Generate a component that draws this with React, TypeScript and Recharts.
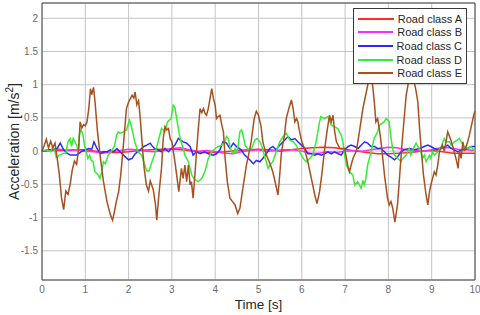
import React from "react";
import {
  LineChart,
  Line,
  XAxis,
  YAxis,
  CartesianGrid,
  Legend,
  Label,
  ReferenceLine,
} from "recharts";

// tick labels
const xTicks = [0, 1, 2, 3, 4, 5, 6, 7, 8, 9, 10];
const yTicks = [-1.5, -1, -0.5, 0, 0.5, 1, 1.5, 2];

// Road class A (red) - slow, tiny drift
const timeA = [
  0, 0.25, 0.5, 0.75, 1, 1.25, 1.5, 1.75, 2, 2.25, 2.5, 2.75, 3, 3.25, 3.5, 3.75, 4, 4.25, 4.5, 4.75, 5,
  5.25, 5.5, 5.75, 6, 6.25, 6.5, 6.75, 7, 7.25, 7.5, 7.75, 8, 8.25, 8.5, 8.75, 9, 9.25, 9.5, 9.75, 10,
];
const accA = [
  0, 0.01, 0.01, 0.02, 0.02, 0, -0.02, -0.02, -0.01, 0.01, 0.02, 0.03, 0.03, 0.02, 0, -0.02, -0.02, -0.01,
  0.01, 0.02, 0.03, 0.02, 0, 0.02, 0.04, 0.05, 0.06, 0.05, 0.03, 0, -0.02, -0.04, -0.04, -0.03, -0.02, 0,
  0.01, -0.01, -0.03, -0.03, -0.03,
];

// Road class B (magenta)
const timeB = [
  0, 0.2, 0.4, 0.6, 0.8, 1, 1.2, 1.4, 1.6, 1.8, 2, 2.2, 2.4, 2.6, 2.8, 3, 3.2, 3.4, 3.6, 3.8, 4, 4.2, 4.4,
  4.6, 4.8, 5, 5.2, 5.4, 5.6, 5.8, 6, 6.2, 6.4, 6.6, 6.8, 7, 7.2, 7.4, 7.6, 7.8, 8, 8.2, 8.4, 8.6, 8.8, 9,
  9.2, 9.4, 9.6, 9.8, 10,
];
const accB = [
  0, 0.02, 0.03, 0.01, 0.02, 0, -0.01, -0.03, -0.01, 0.01, 0.03, 0.02, 0, -0.01, 0.01, 0.04, 0.05, 0.02, 0,
  0.01, -0.01, -0.03, -0.04, -0.01, 0.01, 0.02, 0, 0.01, 0.02, 0.02, 0, -0.03, -0.03, -0.01, -0.02, 0, 0.01,
  0, 0.02, 0.04, 0.06, 0.05, 0.02, 0.01, 0, 0.02, 0.05, 0.05, 0.03, 0.02, 0.01,
];

// Road class C (blue)
const timeC = [
  0, 0.2, 0.35, 0.42, 0.5, 0.58, 0.65, 0.73, 0.8, 0.9, 1, 1.08, 1.15, 1.2, 1.27, 1.35, 1.42, 1.5, 1.58,
  1.65, 1.73, 1.8, 1.93, 2, 2.08, 2.15, 2.27, 2.35, 2.42, 2.5, 2.53, 2.6, 2.68, 2.76, 2.84, 2.92, 2.99, 3.07,
  3.15, 3.19, 3.26, 3.34, 3.42, 3.49, 3.57, 3.65, 3.76, 3.84, 3.95, 4.03, 4.11, 4.18, 4.26, 4.34, 4.42, 4.49,
  4.6, 4.68, 4.77, 4.88, 4.95, 5.03, 5.1, 5.18, 5.26, 5.33, 5.41, 5.49, 5.57, 5.64, 5.68, 5.76, 5.84, 5.91,
  5.99, 6.07, 6.14, 6.22, 6.3, 6.37, 6.45, 6.53, 6.6, 6.68, 6.76, 6.84, 6.91, 6.99, 7.07, 7.14, 7.22, 7.3,
  7.37, 7.45, 7.52, 7.6, 7.68, 7.75, 7.83, 7.91, 7.98, 8.06, 8.14, 8.21, 8.29, 8.37, 8.48, 8.6, 8.72, 8.83,
  8.91, 8.98, 9.06, 9.14, 9.22, 9.29, 9.37, 9.45, 9.52, 9.6, 9.72, 9.83, 9.91, 10,
];
const accC = [
  0, 0.02, 0.04, 0.12, 0.02, -0.03, -0.06, -0.06, -0.06, -0.01, 0.02, 0.04, 0.03, 0.14, 0.04, -0.04, -0.01,
  -0.01, 0.02, -0.01, 0.04, -0.01, -0.09, -0.13, -0.11, -0.04, 0.02, 0.07, 0.09, 0.12, 0.09, 0.04, 0.02,
  -0.01, 0.04, -0.01, 0.04, 0.09, 0.19, 0.17, 0.14, 0.12, 0.07, -0.06, -0.01, -0.04, -0.01, -0.04, -0.06,
  -0.04, 0.02, 0.14, 0.12, 0.04, 0.12, 0.07, 0.02, -0.06, -0.11, -0.19, -0.14, -0.16, -0.11, -0.04, 0.04,
  0.07, 0.02, 0.09, 0.14, 0.19, 0.22, 0.17, 0.19, 0.14, 0.09, 0.04, -0.04, -0.04, -0.06, -0.04, -0.06, -0.04,
  -0.01, -0.04, -0.01, -0.04, -0.06, 0.02, 0.07, 0.09, 0.07, 0.04, 0.09, 0.14, 0.12, 0.07, 0.07, 0.04, 0.04,
  -0.01, -0.06, -0.09, -0.13, -0.09, -0.01, 0.02, 0.04, 0.02, 0.04, 0.07, 0.09, 0.07, 0.04, 0.02, 0.04, 0.06,
  0.09, 0.04, 0.02, -0.01, 0.02, 0.04, 0.07, 0.07,
];

// Road class D (green)
const timeD = [
  0, 0.1, 0.2, 0.25, 0.3, 0.33, 0.4, 0.5, 0.55, 0.6, 0.65, 0.68, 0.72, 0.76, 0.8, 0.84, 0.86, 0.9, 0.94,
  0.98, 1.02, 1.06, 1.1, 1.14, 1.18, 1.22, 1.3, 1.34, 1.38, 1.42, 1.46, 1.53, 1.6, 1.68, 1.72, 1.76, 1.8,
  1.88, 1.95, 2.02, 2.06, 2.1, 2.14, 2.22, 2.3, 2.37, 2.42, 2.47, 2.52, 2.57, 2.62, 2.68, 2.76, 2.84, 2.9,
  2.98, 3.03, 3.07, 3.11, 3.15, 3.19, 3.26, 3.3, 3.38, 3.42, 3.46, 3.53, 3.61, 3.69, 3.76, 3.8, 3.84, 3.92,
  4, 4.07, 4.15, 4.22, 4.26, 4.3, 4.34, 4.38, 4.42, 4.46, 4.5, 4.53, 4.57, 4.61, 4.65, 4.69, 4.77, 4.84,
  4.92, 4.97, 5.03, 5.07, 5.11, 5.18, 5.22, 5.26, 5.33, 5.41, 5.49, 5.57, 5.64, 5.72, 5.8, 5.87, 5.95, 6.03,
  6.1, 6.18, 6.25, 6.33, 6.41, 6.44, 6.52, 6.6, 6.68, 6.75, 6.83, 6.91, 6.95, 6.99, 7.03, 7.1, 7.18, 7.22,
  7.29, 7.33, 7.37, 7.41, 7.44, 7.48, 7.52, 7.6, 7.67, 7.75, 7.79, 7.9, 7.95, 8.02, 8.06, 8.1, 8.14, 8.22,
  8.29, 8.33, 8.41, 8.48, 8.52, 8.6, 8.64, 8.68, 8.75, 8.79, 8.83, 8.87, 8.95, 8.98, 9.02, 9.06, 9.14, 9.22,
  9.29, 9.33, 9.41, 9.45, 9.52, 9.6, 9.64, 9.68, 9.75, 9.83, 9.91, 10,
];
const accD = [
  0, 0.02, -0.01, 0.07, -0.01, -0.1, -0.06, -0.03, -0.03, 0.14, 0.19, 0.07, 0.19, 0.14, 0.09, -0.01, 0.24,
  0.32, 0.27, 0.09, -0.01, -0.11, -0.06, -0.14, -0.16, -0.31, -0.36, -0.41, -0.31, -0.16, -0.19, -0.06,
  -0.01, 0.09, 0.24, 0.29, 0.27, 0.29, 0.32, 0.47, 0.39, 0.27, 0.14, -0.01, -0.06, -0.2, -0.3, -0.3, -0.2,
  -0.1, -0.01, 0.14, 0.34, 0.29, 0.44, 0.49, 0.69, 0.66, 0.49, 0.34, 0.19, 0.04, -0.06, -0.16, -0.26, -0.36,
  -0.43, -0.46, -0.41, -0.31, -0.21, -0.11, -0.01, 0.04, 0.07, 0.09, 0.14, 0.22, 0.19, 0.07, -0.01, -0.04,
  0.04, -0.01, 0.09, 0.29, 0.32, 0.22, 0.09, 0.02, 0.04, 0.17, 0.19, 0.14, 0.09, -0.01, -0.16, -0.26, -0.21,
  -0.16, -0.01, 0.14, 0.22, 0.27, 0.17, 0.14, 0.09, -0.01, -0.11, -0.16, -0.11, -0.06, 0.14, 0.44, 0.52,
  0.49, 0.52, 0.39, 0.37, 0.34, 0.24, 0.14, -0.06, -0.21, -0.31, -0.36, -0.51, -0.46, -0.51, -0.56, -0.44,
  -0.51, -0.41, -0.21, -0.01, 0.19, 0.29, 0.39, 0.44, 0.49, 0.44, 0.19, 0.04, -0.06, -0.11, -0.16, -0.11,
  -0.06, 0.04, -0.06, 0.07, 0.12, 0.07, -0.01, -0.11, -0.06, -0.16, -0.06, -0.11, -0.01, -0.06, -0.01, 0.07,
  0.19, 0.14, 0.14, 0.09, 0.14, 0.17, 0.19, 0.14, 0.07, 0.04, 0.07, -0.01,
];

// Road class E (brown)
const timeE = [
  0, 0.05, 0.1, 0.15, 0.2, 0.25, 0.3, 0.35, 0.4, 0.45, 0.5, 0.55, 0.6, 0.65, 0.7, 0.75, 0.8, 0.85, 0.88,
  0.92, 0.96, 1, 1.04, 1.08, 1.12, 1.15, 1.19, 1.23, 1.28, 1.35, 1.42, 1.5, 1.58, 1.63, 1.67, 1.72, 1.77,
  1.82, 1.88, 1.95, 2, 2.08, 2.12, 2.15, 2.19, 2.23, 2.27, 2.31, 2.36, 2.41, 2.46, 2.5, 2.57, 2.62, 2.65,
  2.7, 2.76, 2.8, 2.84, 2.88, 2.92, 2.96, 3, 3.07, 3.11, 3.16, 3.22, 3.26, 3.3, 3.34, 3.38, 3.42, 3.45,
  3.49, 3.53, 3.57, 3.61, 3.65, 3.69, 3.73, 3.77, 3.8, 3.84, 3.88, 3.92, 3.96, 4, 4.03, 4.07, 4.11, 4.15,
  4.19, 4.23, 4.28, 4.34, 4.4, 4.46, 4.52, 4.57, 4.65, 4.72, 4.77, 4.83, 4.9, 4.95, 5, 5.06, 5.1, 5.18,
  5.25, 5.33, 5.4, 5.45, 5.49, 5.53, 5.6, 5.64, 5.7, 5.76, 5.8, 5.84, 5.88, 5.91, 5.95, 6, 6.06, 6.14, 6.22,
  6.3, 6.35, 6.41, 6.46, 6.53, 6.58, 6.64, 6.68, 6.72, 6.76, 6.8, 6.88, 6.99, 7.06, 7.1, 7.18, 7.26, 7.33,
  7.41, 7.49, 7.54, 7.6, 7.65, 7.68, 7.71, 7.75, 7.79, 7.83, 7.87, 7.91, 7.98, 8.02, 8.06, 8.1, 8.15, 8.21,
  8.25, 8.29, 8.33, 8.37, 8.41, 8.48, 8.53, 8.58, 8.64, 8.68, 8.72, 8.77, 8.81, 8.87, 8.91, 8.95, 8.98,
  9.02, 9.06, 9.1, 9.14, 9.18, 9.25, 9.29, 9.33, 9.37, 9.43, 9.48, 9.56, 9.61, 9.64, 9.68, 9.72, 9.76, 9.83,
  9.87, 9.97, 10,
];
const accE = [
  0, 0.08, 0.18, 0.05, 0.15, 0.05, 0.12, -0.1, -0.35, -0.7, -0.88, -0.6, -0.65, -0.5, -0.28, -0.15, -0.2,
  0.06, 0.44, 0.35, 0.4, 0.38, 0.44, 0.64, 0.94, 0.85, 0.96, 0.7, 0.3, -0.11, -0.46, -0.76, -0.96, -1.04,
  -0.92, -0.75, -0.61, -0.35, 0.09, 0.64, 0.74, 0.84, 0.8, 0.89, 0.7, 0.76, 0.49, 0.14, -0.26, -0.51, -0.6,
  -0.45, -0.58, -0.8, -1.04, -0.65, -0.26, 0.19, 0.37, 0.32, 0.34, 0.19, 0.14, -0.16, -0.36, -0.61, -0.26,
  -0.41, -0.21, -0.46, -0.21, -0.51, -0.46, -0.71, -0.36, 0, 0.34, 0.64, 0.58, 0.64, 0.56, 0.54, 0.64, 0.79,
  0.94, 0.79, 0.69, 0.49, 0.52, 0.54, 0.4, 0.29, -0.11, -0.46, -0.71, -0.76, -0.81, -0.94, -0.86, -0.51,
  -0.21, -0.06, 0.14, 0.49, 0.6, 0.54, 0.37, 0.14, -0.06, -0.16, -0.31, -0.51, -0.66, -0.36, -0.01, 0.24,
  0.49, 0.64, 0.77, 0.64, 0.44, 0.49, 0.44, 0.29, 0.14, 0.04, -0.16, -0.41, -0.66, -0.79, -0.61, -0.36,
  0.04, 0.29, 0.54, 0.44, 0.54, 0.29, 0.14, 0.04, 0.04, -0.21, -0.31, -0.11, 0, 0.29, 0.64, 0.89, 1.05, 1.2,
  0.9, 0.7, 0.44, 0.49, 0.34, 0.14, -0.11, -0.36, -0.71, -0.81, -0.76, -0.86, -1.07, -0.81, -0.46, -0.1,
  0.24, 0.54, 0.84, 1.1, 1.22, 1.1, 0.9, 0.74, 0.34, -0.06, -0.36, -0.66, -0.81, -0.61, -0.51, -0.41, -0.31,
  -0.36, -0.21, 0, 0.09, 0, 0.14, 0.29, 0.19, 0.09, -0.11, -0.26, 0, -0.11, 0.14, 0, 0.14, 0.24, 0.54, 0.6,
];

const toPoints = (times: number[], values: number[]) =>
  times.map((t, i) => ({ t, v: values[i] }));

const series = [
  { name: "Road class A", color: "#ff2a2a", data: toPoints(timeA, accA) },
  { name: "Road class B", color: "#ff2aff", data: toPoints(timeB, accB) },
  { name: "Road class C", color: "#2a2aff", data: toPoints(timeC, accC) },
  { name: "Road class D", color: "#33ee33", data: toPoints(timeD, accD) },
  { name: "Road class E", color: "#a8501e", data: toPoints(timeE, accE) },
];

const renderLegend = ({ payload }: any) => (
  <div
    style={{
      border: "1px solid #3a3a3a",
      background: "#ffffff",
      padding: "3px 4px 3px 4px",
      boxSizing: "border-box",
      width: 114,
    }}
  >
    {(payload || []).map((entry: any) => (
      <div
        key={entry.value}
        style={{ display: "flex", alignItems: "center", height: 13.6, fontSize: 11, color: "#262626" }}
      >
        <span
          style={{
            display: "inline-block",
            width: 39,
            height: 0,
            borderTop: `2px solid ${entry.color}`,
            marginRight: 4,
          }}
        />
        <span style={{ whiteSpace: "nowrap" }}>{entry.value}</span>
      </div>
    ))}
  </div>
);

const yLabel = ({ viewBox }: any) => {
  const cx = 14;
  const cy = viewBox.y + viewBox.height / 2;
  return (
    <text
      x={cx}
      y={cy}
      transform={`rotate(-90, ${cx}, ${cy})`}
      textAnchor="middle"
      dominantBaseline="central"
      fontSize={14}
      fill="#262626"
    >
      Acceleration [m/s
      <tspan dy={-5} fontSize={10}>
        2
      </tspan>
      <tspan dy={5}>]</tspan>
    </text>
  );
};

const App: React.FC = () => {
  return (
    <div
      style={{
        position: "absolute",
        left: 0,
        top: 0,
        width: 480,
        height: 315,
        background: "#ffffff",
        fontFamily: "'Liberation Sans', Arial, sans-serif",
      }}
    >
      <LineChart width={480} height={315} margin={{ top: 3, right: 5, bottom: 0, left: 6 }}>
        <CartesianGrid stroke="#c4c4c4" strokeWidth={1} />
        <XAxis
          dataKey="t"
          type="number"
          domain={[0, 10]}
          ticks={xTicks}
          interval={0}
          height={35}
          stroke="#444444"
          tick={{ fill: "#6b6b6b", fontSize: 10 }}
          tickLine={false}
          tickSize={0}
          tickMargin={6}
        >
          <Label value="Time [s]" position="insideBottom" offset={6} fontSize={13.5} fill="#262626" />
        </XAxis>
        <YAxis
          type="number"
          domain={[-1.94, 2.23]}
          ticks={yTicks}
          interval={0}
          width={36}
          stroke="#444444"
          tick={{ fill: "#6b6b6b", fontSize: 10 }}
          tickLine={false}
          tickSize={0}
          tickMargin={4}
        >
          <Label content={yLabel} />
        </YAxis>
        <ReferenceLine y={2.23} stroke="#444444" />
        <ReferenceLine x={10} stroke="#444444" />
        {series.map((s) => (
          <Line
            key={s.name}
            data={s.data}
            dataKey="v"
            name={s.name}
            type="linear"
            stroke={s.color}
            strokeWidth={1.5}
            dot={false}
            isAnimationActive={false}
          />
        ))}
        <Legend
          layout="vertical"
          align="center"
          verticalAlign="middle"
          content={renderLegend}
          wrapperStyle={{ position: "absolute", top: 8, left: 353, width: 114, right: "auto", bottom: "auto" }}
        />
      </LineChart>
    </div>
  );
};

export default App;
